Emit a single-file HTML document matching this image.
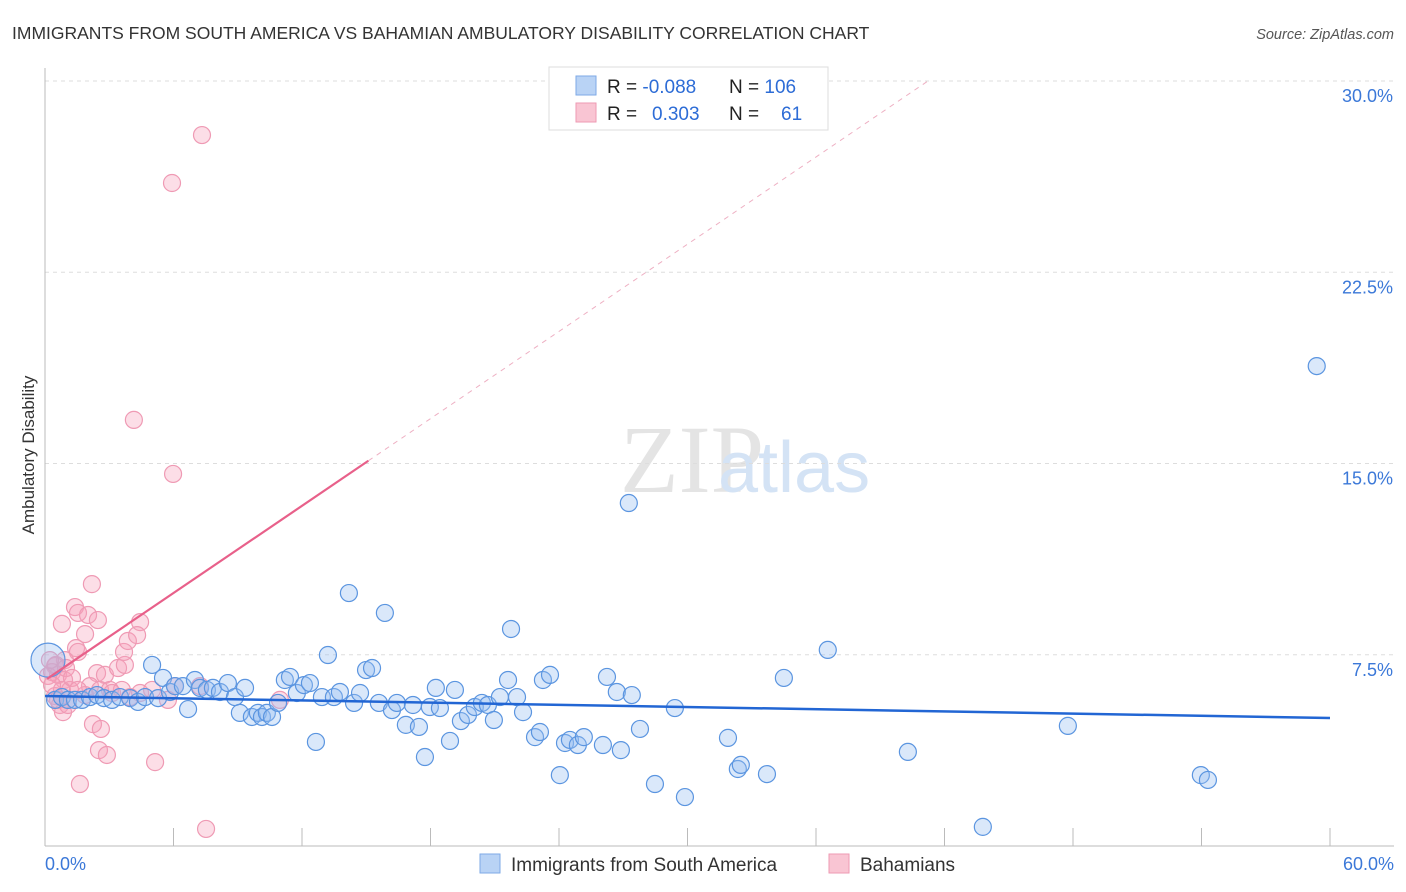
<!DOCTYPE html>
<html><head><meta charset="utf-8"><style>
body{margin:0;background:#fff;font-family:"Liberation Sans",sans-serif}
</style></head><body>
<svg id="chart" width="1406" height="892" style="display:block">
<text x="12" y="39" font-size="17.5" fill="#333">IMMIGRANTS FROM SOUTH AMERICA VS BAHAMIAN AMBULATORY DISABILITY CORRELATION CHART</text>
<text x="1394" y="39" font-size="14.5" fill="#555" font-style="italic" text-anchor="end">Source: ZipAtlas.com</text>
<text x="620" y="492" font-size="96" fill="#e4e4e4" font-family="Liberation Serif,serif">ZIP</text>
<text x="718" y="492" font-size="72" fill="#d4e3f5">atlas</text>
<text transform="translate(34,455) rotate(-90)" font-size="17" fill="#333" text-anchor="middle">Ambulatory Disability</text>
<g id="grid"></g><g id="axes"></g><g id="marks"></g>
<g>
<rect x="549" y="67" width="279" height="63" fill="#fff" stroke="#ddd"/>
<rect x="576" y="76" width="20" height="19" fill="#b9d3f5" stroke="#7ea9e6"/>
<rect x="576" y="103" width="20" height="19" fill="#f9c5d3" stroke="#ee9ab3"/>
<text x="607" y="93" font-size="19" fill="#222">R = <tspan fill="#2d6cd6">-0.088</tspan><tspan x="729">N = </tspan><tspan fill="#2d6cd6">106</tspan></text>
<text x="607" y="120" font-size="19" fill="#222">R = <tspan x="652" fill="#2d6cd6">0.303</tspan><tspan x="729">N = </tspan><tspan x="781" fill="#2d6cd6">61</tspan></text>
</g>
<g>
<rect x="480" y="854" width="20" height="19" fill="#b9d3f5" stroke="#7ea9e6"/>
<text x="511" y="871" font-size="19" fill="#333">Immigrants from South America</text>
<rect x="829" y="854" width="20" height="19" fill="#f9c5d3" stroke="#ee9ab3"/>
<text x="860" y="871" font-size="19" fill="#333">Bahamians</text>
</g>
</svg>
<script>
const yTicks=[7.5,15,22.5,30];
const yTickLabels=["7.5%","15.0%","22.5%","30.0%"];
const xTickLabels=["0.0%","60.0%"];
const blueX=[.14,.47,.79,1.07,1.40,1.73,2.10,2.43,2.75,3.13,3.50,3.97,4.34,4.67,5.00,5.28,5.51,5.84,6.07,6.44,6.68,7.00,7.24,7.56,7.84,8.17,8.54,8.87,9.10,9.34,9.66,9.94,10.13,10.36,10.60,10.88,11.20,11.44,11.76,12.09,12.37,12.65,12.93,13.21,13.49,13.77,14.19,14.43,14.71,14.99,15.27,15.59,15.87,16.20,16.43,16.85,17.18,17.46,17.74,17.97,18.25,18.44,18.91,19.14,19.42,19.75,20.07,20.40,20.68,20.96,21.24,21.62,21.76,22.04,22.32,22.88,23.11,23.25,23.58,24.04,24.28,24.51,24.88,25.16,26.05,26.24,26.70,26.89,27.26,27.40,27.78,28.48,29.41,29.88,31.89,32.35,32.49,33.71,34.50,36.55,40.29,43.79,47.76,53.97,54.30,59.38];
const blueY=[7.29,5.73,5.84,5.73,5.73,5.73,5.84,5.92,5.80,5.73,5.84,5.80,5.65,5.84,7.10,5.80,6.59,6.04,6.27,6.27,5.37,6.51,6.20,6.12,6.20,6.04,6.39,5.84,5.22,6.20,5.06,5.22,5.06,5.22,5.06,5.61,6.51,6.63,6.00,6.31,6.39,4.08,5.84,7.49,5.84,6.04,9.92,5.61,6.00,6.90,6.98,5.61,9.14,5.33,5.61,4.75,5.53,4.67,3.49,5.45,6.20,5.41,4.12,6.12,4.90,5.14,5.45,5.61,5.53,4.94,5.84,6.51,8.51,5.84,5.25,4.27,4.47,6.51,6.71,2.78,4.04,4.16,3.96,4.27,3.96,6.63,6.04,3.76,13.45,5.92,4.59,2.43,5.41,1.92,4.24,3.02,3.18,2.82,6.59,7.69,3.69,0.75,4.71,2.78,2.59,18.82];
const pinkX=[7.33,5.93,4.15,5.98,2.19,1.40,1.54,2.01,2.47,1.87,.79,1.45,1.54,.93,.47,.33,.61,.89,1.17,.79,.47,.70,.84,2.43,2.80,3.41,3.73,3.69,3.87,4.44,4.30,2.10,2.57,3.03,3.59,4.44,5.00,6.07,7.24,2.24,2.61,2.52,2.89,5.14,1.63,7.52,10.97,5.74,.14,.33,.51,.98,1.26,.23,.61,1.07,1.87,1.54,3.13,3.97];
const pinkY=[27.88,26.00,16.71,14.59,10.27,9.37,9.14,9.06,8.86,8.31,8.71,7.76,7.61,7.29,7.06,6.82,6.71,6.51,6.12,6.12,5.88,5.53,5.25,6.78,6.71,6.98,7.10,7.61,8.04,8.78,8.27,6.27,6.12,6.12,6.12,6.00,6.12,6.27,6.27,4.78,4.59,3.76,3.57,3.29,2.43,0.67,5.73,5.73,6.67,6.31,7.10,6.98,6.59,7.29,5.73,5.53,5.92,6.12,6.00,5.84];
const blueTrend=[5.88,5.02];
const pinkTrend=[6.5,0.57];
const NS="http://www.w3.org/2000/svg";
const X0=45,X1=1330,Y0=846,Y30=81;
const sx=v=>X0+v*(X1-X0)/60, sy=v=>Y0-v*(Y0-Y30)/30;
function mk(tag,attrs,parent){const e=document.createElementNS(NS,tag);for(const k in attrs)e.setAttribute(k,attrs[k]);parent.appendChild(e);return e;}
const grid=document.getElementById('grid'),axes=document.getElementById('axes'),marks=document.getElementById('marks');
yTicks.forEach((t,i)=>{
 const l=mk('line',{x1:X0,x2:1394,y1:sy(t),y2:sy(t),stroke:'#ddd','stroke-dasharray':'4,4'},grid);
 
 
 const tx=mk('text',{x:1393,y:sy(t)+21,'font-size':18,fill:'#3b78d8','text-anchor':'end'},axes);
 tx.textContent=yTickLabels[i];
 
 
});
const ax=mk('line',{x1:X0,x2:X0,y1:68,y2:Y0,stroke:'#bbb'},axes);


const bx=mk('line',{x1:X0,x2:1394,y1:Y0,y2:Y0,stroke:'#bbb'},axes);


for(let i=1;i<=10;i++){const t=mk('line',{x1:sx(i*6),x2:sx(i*6),y1:Y0-18,y2:Y0,stroke:'#bbb'},axes);
 
 }
[[0,'start',45],[60,'end',1394]].forEach((d,i)=>{const t=mk('text',{x:d[2],y:870,'font-size':18,fill:'#3b78d8','text-anchor':d[1]},axes);t.textContent=xTickLabels[i];
 
 });
pinkX.forEach((x,i)=>{const c=mk('circle',{cx:sx(x),cy:sy(pinkY[i]),r:8.5,fill:'rgba(246,160,186,0.35)',stroke:'#ef9ab4','stroke-width':1.2},marks);
 
 });
blueX.forEach((x,i)=>{const c=mk('circle',{cx:sx(x),cy:sy(blueY[i]),r:i===0?17:8.5,fill:'rgba(150,190,240,0.35)',stroke:'#5b95e0','stroke-width':1.2},marks);
 
 });
const bl=mk('line',{x1:sx(0),y1:sy(blueTrend[0]),x2:sx(60),y2:sy(blueTrend[1]),stroke:'#2266d4','stroke-width':2.5},marks);


const pe=15.1,pd=(30-pinkTrend[0])/pinkTrend[1];
const pl=mk('line',{x1:sx(0.1),y1:sy(pinkTrend[0]+pinkTrend[1]*0.1),x2:sx(pe),y2:sy(pinkTrend[0]+pinkTrend[1]*pe),stroke:'#e8608a','stroke-width':2.2},marks);


const pdl=mk('line',{x1:sx(pe),y1:sy(pinkTrend[0]+pinkTrend[1]*pe),x2:sx(pd),y2:sy(30),stroke:'#eeb0c3','stroke-width':1,'stroke-dasharray':'5,5'},marks);


</script>
</body></html>
